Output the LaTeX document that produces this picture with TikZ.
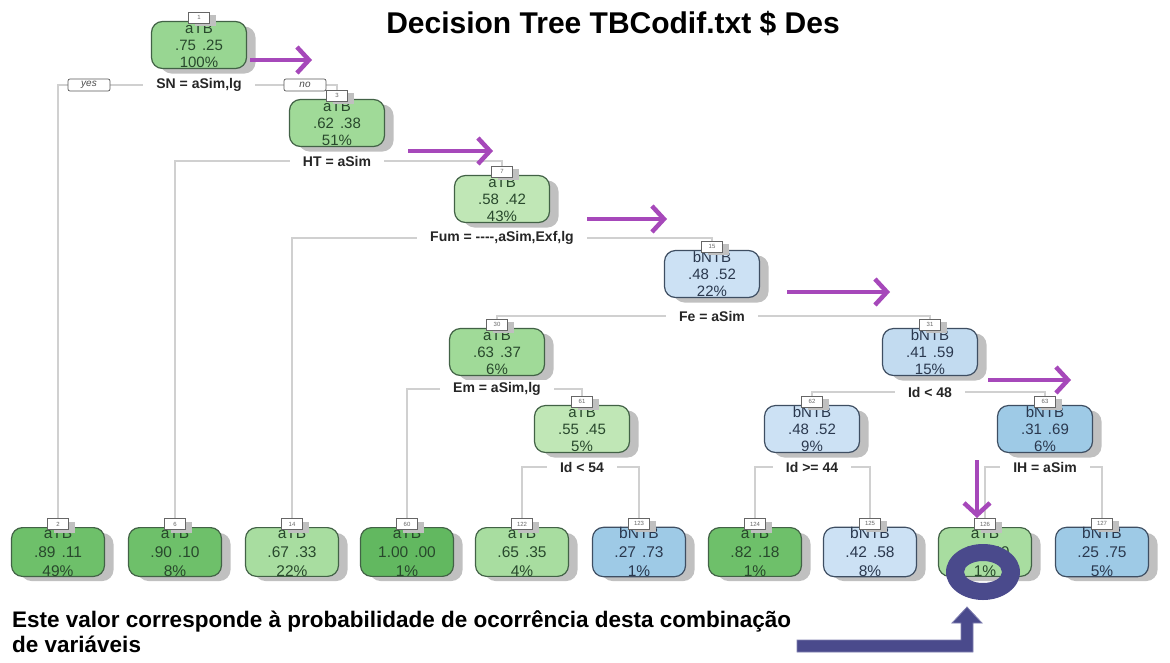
\documentclass[tikz,border=0pt]{standalone}
\usepackage{fontspec}
\setmainfont{Liberation Sans}
\usetikzlibrary{arrows.meta,calc}
\pgfdeclarelayer{bg}
\pgfsetlayers{bg,main}

% node fills, from light to saturated
\definecolor{gA}{RGB}{152,214,146}
\definecolor{gB}{RGB}{160,218,152}
\definecolor{gC}{RGB}{192,231,182}
\definecolor{gD}{RGB}{110,192,106}
\definecolor{gE}{RGB}{98,184,96}
\definecolor{gF}{RGB}{168,221,160}
\definecolor{bA}{RGB}{204,225,244}
\definecolor{bB}{RGB}{194,219,240}
\definecolor{bC}{RGB}{158,202,230}
\definecolor{gLine}{RGB}{66,98,70}
\definecolor{bLine}{RGB}{62,78,98}
\definecolor{gText}{RGB}{40,72,44}
\definecolor{bText}{RGB}{42,56,78}
\definecolor{shadowc}{RGB}{192,192,192}
\definecolor{branchc}{RGB}{208,208,208}
\definecolor{hintc}{RGB}{166,72,186}
\definecolor{ringc}{RGB}{74,74,140}
\definecolor{ringedge}{RGB}{128,128,176}

\newcommand\nodefont{\fontsize{15}{17}\selectfont}
\newcommand\leaffont{\fontsize{15.5}{19}\selectfont}

% #1 name, #2 position, #3 box style, #4 fill, #5 border/text tone (g or b),
% #6 tag number, #7 class, #8 probabilities, #9 percentage
\newcommand\treenode[9]{%
  \node[#3, fill=shadowc, draw=none, xshift=9pt, yshift=-5pt] at #2 {};
  \node[#3, fill=#4, draw=#5Line, text=#5Text] (#1) at #2 {#7\\#8\\#9};
  \node[tagbox, fill=shadowc, draw=none, xshift=6pt, yshift=-3pt] at ([yshift=3pt]#1.north) {};
  \node[tagbox] (#1t) at ([yshift=3pt]#1.north) {#6};
}

\begin{document}
\begin{tikzpicture}[x=1pt,y=-1pt,
  inbox/.style={rectangle, rounded corners=11pt, minimum width=95pt,
    minimum height=47pt, inner sep=0pt, line width=1.2pt, align=center, font=\nodefont},
  leafbox/.style={inbox, minimum width=93pt, minimum height=48pt, font=\leaffont},
  tagbox/.style={rectangle, draw=black!60, fill=white, minimum width=21pt,
    minimum height=11pt, inner sep=0pt, line width=0.7pt,
    font=\fontsize{6}{6}\selectfont, text=black!60},
  splitlab/.style={fill=white, inner xsep=13pt, inner ysep=2pt,
    font=\bfseries\fontsize{14}{14}\selectfont, text=black!85},
  yn/.style={rectangle, draw=black!65, fill=white, rounded corners=2pt,
    minimum width=42pt, minimum height=12pt, inner sep=0pt, line width=0.7pt,
    font=\itshape\fontsize{10}{10}\selectfont, text=black!70},
  branch/.style={draw=branchc, line width=1.1pt},
  hint/.style={draw=hintc, line width=4.5pt,
    -{Straight Barb[length=12pt, width=26pt]}}
]
\useasboundingbox (0,0) rectangle (1170,662);

% title
\node[anchor=base, font=\bfseries\fontsize{30}{31}\selectfont] (title) at (613,33)
  {Decision Tree TBCodif.txt \$ Des};

% internal nodes
\treenode{n1}{(199,45)}{inbox}{gA}{g}{1}{aTB}{.75\hspace{6pt}.25}{100\%}
\treenode{n3}{(337,123)}{inbox}{gB}{g}{3}{aTB}{.62\hspace{6pt}.38}{51\%}
\treenode{n7}{(502,199)}{inbox}{gC}{g}{7}{aTB}{.58\hspace{6pt}.42}{43\%}
\treenode{n15}{(712,274)}{inbox}{bA}{b}{15}{bNTB}{.48\hspace{6pt}.52}{22\%}
\treenode{n30}{(497,352)}{inbox}{gB}{g}{30}{aTB}{.63\hspace{6pt}.37}{6\%}
\treenode{n31}{(930,352)}{inbox}{bB}{b}{31}{bNTB}{.41\hspace{6pt}.59}{15\%}
\treenode{n61}{(582,429)}{inbox}{gC}{g}{61}{aTB}{.55\hspace{6pt}.45}{5\%}
\treenode{n62}{(812,429)}{inbox}{bA}{b}{62}{bNTB}{.48\hspace{6pt}.52}{9\%}
\treenode{n63}{(1045,429)}{inbox}{bC}{b}{63}{bNTB}{.31\hspace{6pt}.69}{6\%}

% leaves
\treenode{l2}{(58,552)}{leafbox}{gD}{g}{2}{aTB}{.89\hspace{6pt}.11}{49\%}
\treenode{l6}{(175,552)}{leafbox}{gD}{g}{6}{aTB}{.90\hspace{6pt}.10}{8\%}
\treenode{l14}{(292,552)}{leafbox}{gF}{g}{14}{aTB}{.67\hspace{6pt}.33}{22\%}
\treenode{l60}{(407,552)}{leafbox}{gE}{g}{60}{aTB}{1.00\hspace{6pt}.00}{1\%}
\treenode{l122}{(522,552)}{leafbox}{gF}{g}{122}{aTB}{.65\hspace{6pt}.35}{4\%}
\treenode{l123}{(639,552)}{leafbox}{bC}{b}{123}{bNTB}{.27\hspace{6pt}.73}{1\%}
\treenode{l124}{(755,552)}{leafbox}{gD}{g}{124}{aTB}{.82\hspace{6pt}.18}{1\%}
\treenode{l125}{(870,552)}{leafbox}{bA}{b}{125}{bNTB}{.42\hspace{6pt}.58}{8\%}
\treenode{l126}{(985,552)}{leafbox}{gF}{g}{126}{aTB}{.60\hspace{6pt}.40}{1\%}
\treenode{l127}{(1102,552)}{leafbox}{bC}{b}{127}{bNTB}{.25\hspace{6pt}.75}{5\%}

% split labels
\node[splitlab] (s1) at (199,85) {SN = aSim,lg};
\node[splitlab] (s3) at (337,161) {HT = aSim};
\node[splitlab] (s7) at (502,238) {Fum = -{}-{}-{}-,aSim,Exf,lg};
\node[splitlab] (s15) at (712,316) {Fe = aSim};
\node[splitlab] (s30) at (497,389) {Em = aSim,lg};
\node[splitlab] (s31) at (930,392) {Id < 48};
\node[splitlab] (s61) at (582,467) {Id < 54};
\node[splitlab] (s62) at (812,467) {Id >= 44};
\node[splitlab] (s63) at (1045,467) {IH = aSim};

\node[yn] (yes) at (89,85) {yes};
\node[yn] (no) at (305,85) {no};

% branches
\begin{pgfonlayer}{bg}
  \draw[branch] (l2t.north) |- (s1.center) -| (n3t.north);
  \draw[branch] (l6t.north) |- (s3.center) -| (n7t.north);
  \draw[branch] (l14t.north) |- (s7.center) -| (n15t.north);
  \draw[branch] (n30t.north) |- (s15.center) -| (n31t.north);
  \draw[branch] (l60t.north) |- (s30.center) -| (n61t.north);
  \draw[branch] (n62t.north) |- (s31.center) -| (n63t.north);
  \draw[branch] (l122t.north) |- (s61.center) -| (l123t.north);
  \draw[branch] (l124t.north) |- (s62.center) -| (l125t.north);
  \draw[branch] (l126t.north) |- (s63.center) -| (l127t.north);
\end{pgfonlayer}

% path highlighting arrows
\draw[hint] (250,60) -- (312,60);
\draw[hint] (408,151) -- (493,151);
\draw[hint] (587,219) -- (667,219);
\draw[hint] (787,292) -- (890,292);
\draw[hint] (988,380) -- (1071,380);
\draw[hint] (977,460) -- (977,518);

% ring around the leaf percentage
\fill[ringc, even odd rule] (983,572) ellipse [x radius=37, y radius=28]
  (983,572) ellipse [x radius=19, y radius=11];

% bent pointer from the note
\filldraw[fill=ringc, draw=ringedge, line width=0.8pt]
  (797,640) -- (961,640) -- (961,623) -- (952,623) -- (967,607) -- (982,623)
  -- (973,623) -- (973,652) -- (797,652) -- cycle;

% note
\node[anchor=base west, align=left, inner sep=0pt,
  font=\bfseries\fontsize{22.5}{25}\selectfont] (note) at (12,652)
  {Este valor corresponde à probabilidade de ocorrência desta combinação\\de variáveis};
\end{tikzpicture}
\end{document}
